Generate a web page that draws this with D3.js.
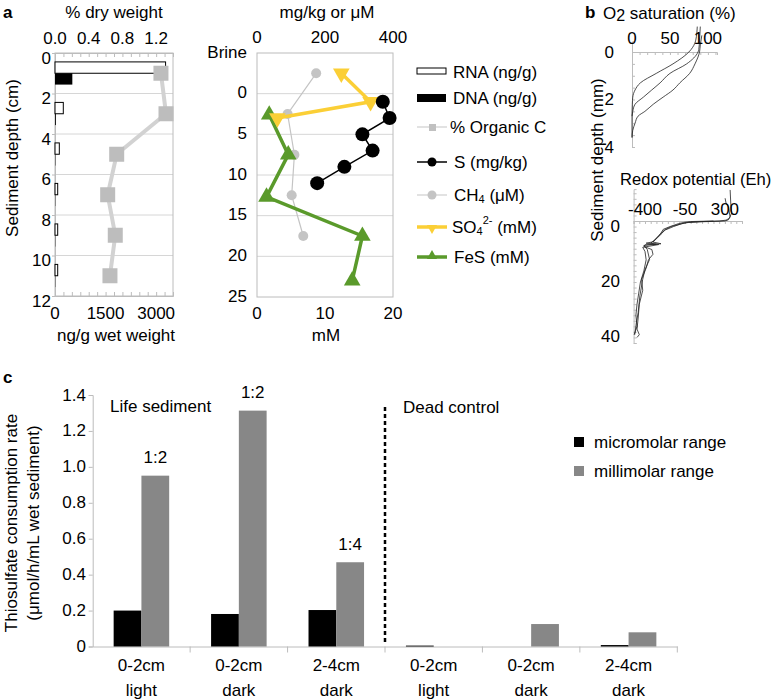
<!DOCTYPE html>
<html><head><meta charset="utf-8">
<script src="https://cdn.jsdelivr.net/npm/d3@7"></script>
<style>
body{margin:0;background:#fff;}
svg{display:block;font-family:"Liberation Sans",Arial,Helvetica,sans-serif;}
</style></head><body>
<svg id="chart" width="777" height="700"></svg>
<script>
// ---------- Panel a (left): nucleic acids & organic C ----------
const aDepthCats = [1, 3, 5, 7, 9, 11];
const rnaNgG = [3280, 246, 128, 80, 80, 80];
const dnaNgG = [514, 25, 10, 8, 8, 8];
const orgCPct = [1.257, 1.317, 0.732, 0.625, 0.715, 0.652];
const aLeftDepthTicks = [0, 2, 4, 6, 8, 10, 12];
const dryTicks = [0, 0.4, 0.8, 1.2];
const wetTicks = [0, 1500, 3000];

// ---------- Panel a (middle): geochemistry ----------
const sDepth = [1, 3, 5, 7, 9, 11];
const sMgKg = [370, 390, 310, 340, 257, 177];
const ch4Depth = [-2.5, 2.5, 7.5, 12.5, 17.5];
const ch4uM = [174, 90, 110, 102, 136];
const so4Depth = [-2.5, 1, 3];
const so4mM = [12.4, 16.7, 3.0];
const fesDepth = [2.6, 7.5, 12.7, 17.5, 23];
const fesmM = [1.8, 4.6, 1.4, 15.5, 14.0];
const midDepthTicks = [-5, 0, 5, 10, 15, 20, 25];
const midDepthLabels = ["Brine", "0", "5", "10", "15", "20", "25"];
const midTopTicks = [0, 200, 400];
const midBotTicks = [0, 10, 20];

// ---------- Panel b: microprofiles ----------
const o2Ticks = [0, 50, 100];
const o2DepthTicks = [0, 2, 4];
const o2ProfileA = [[-1.07,86],[-0.5,84],[-0.2,80],[0,75],[0.5,54],[0.9,32],[1.3,11],[1.6,4],[1.9,1],[2.2,0.4],[2.6,0],[3.6,0]];
const o2ProfileB = [[-1.07,90],[-0.5,89],[-0.1,88],[0,87],[0.5,72],[0.9,50],[1.3,37],[1.6,26],[1.9,15],[2.2,4],[2.5,1],[2.7,0]];
const o2ProfileC = [[-0.7,92],[-0.3,90],[0,89],[0.5,83],[0.9,76],[1.3,63],[1.6,54],[1.9,41],[2.2,28],[2.5,17],[2.7,8],[3.0,4],[3.3,1],[3.6,0]];
const redoxTicks = [-400, -50, 300];
const redoxDepthTicks = [0, 20, 40];
const redoxProfile1 = [[-11.2,346],[-6,352],[-3,360],[-1,340],[-0.3,310],[0,250],[0.2,100],[0.5,-20],[1,-80],[2,-150],[3.2,-220],[4.4,-260],[6.2,-300],[7.5,-330],[8,-390],[8.4,-300],[8.8,-410],[10.3,-380],[13.9,-360],[17.5,-400],[21,-420],[27,-445],[33,-460],[36.5,-475],[41,-490]];
const redoxProfile2 = [[-8.2,302],[-6.5,310],[-5.2,331],[-1.5,345],[-0.4,330],[0,300],[0.3,80],[0.6,-40],[1.2,-100],[2,-170],[3.2,-230],[4.4,-250],[6,-290],[7.6,-330],[8.2,-260],[8.6,-400],[9.2,-410],[10.3,-340],[12,-330],[14,-370],[17,-390],[21,-430],[25,-420],[30,-450],[35,-460],[39,-470],[41,-450],[42,-470]];
const redoxProfile3 = [[0,200],[0.2,0],[0.5,-60],[1,-110],[2,-180],[3,-240],[5,-270],[7,-320],[8,-350],[8.5,-280],[9.5,-420],[11,-400],[14,-390],[18,-410],[22,-440],[26,-455],[30,-470],[34,-480],[38,-470],[41,-495]];

// ---------- Panel c: thiosulfate consumption ----------
const cLine1 = ["0-2cm", "0-2cm", "2-4cm", "0-2cm", "0-2cm", "2-4cm"];
const cLine2 = ["light", "dark", "dark", "light", "dark", "dark"];
const micromolar = [0.200, 0.181, 0.203, 0.005, 0, 0.008];
const millimolar = [0.951, 1.313, 0.469, 0, 0.125, 0.079];
const ratioLabels = ["1:2", "1:2", "1:4", "", "", ""];
const cTicks = [0, 0.2, 0.4, 0.6, 0.8, 1.0, 1.2, 1.4];

// ================= drawing =================
const svg = d3.select("#chart");
const FS = 17;
const gridC = "#d6d6d6", axisC = "#bcbcbc";
const yellow = "#fbcf36", green = "#5a9a2b", lgray = "#c4c4c4";

function txt(x, y, s, opt = {}) {
  return svg.append("text").attr("x", x).attr("y", y)
    .attr("font-size", opt.fs || FS)
    .attr("text-anchor", opt.anchor || "middle")
    .attr("dominant-baseline", "central")
    .attr("font-weight", opt.bold ? "bold" : null)
    .attr("fill", "#000").text(s);
}
function styleAxis(g) {
  g.select(".domain").attr("stroke", axisC);
  g.selectAll(".tick line").attr("stroke", axisC);
  g.selectAll(".tick text").remove();
}

// ----- panel labels -----
txt(3, 12, "a", {anchor: "start", bold: true});
txt(585, 12, "b", {anchor: "start", bold: true});
txt(3, 377, "c", {anchor: "start", bold: true});

// ----- Panel a left -----
const yA = d3.scaleLinear().domain([0, 12]).range([53, 296]);
const xWet = d3.scaleLinear().domain([0, 3500]).range([55, 173]);
const xDry = d3.scaleLinear().domain([0, 1.4]).range([55, 173]);

[2, 4, 6, 8, 10].forEach(d => svg.append("line").attr("x1", 55).attr("x2", 173)
  .attr("y1", yA(d)).attr("y2", yA(d)).attr("stroke", gridC));
svg.append("rect").attr("x", 55).attr("y", yA(0)).attr("width", 118).attr("height", yA(12) - yA(0))
  .attr("fill", "none").attr("stroke", axisC);
svg.append("g").attr("transform", `translate(0,${yA(12)})`)
  .call(d3.axisBottom(xWet).tickValues(d3.range(0, 3501, 250)).tickSize(-4).tickFormat(""))
  .call(styleAxis);
svg.append("g").attr("transform", `translate(0,${yA(0)})`)
  .call(d3.axisTop(xDry).tickValues(d3.range(0, 1.41, 0.1)).tickSize(-4).tickFormat(""))
  .call(styleAxis);
svg.append("g").attr("transform", `translate(55,0)`)
  .call(d3.axisLeft(yA).tickValues(aLeftDepthTicks).tickSize(3).tickFormat(""))
  .call(styleAxis);

const bh = 0.56;
aDepthCats.forEach((c, i) => {
  svg.append("rect").attr("x", xWet(0)).attr("y", yA(c - bh))
    .attr("width", Math.max(xWet(rnaNgG[i]) - xWet(0), 0.5)).attr("height", yA(c) - yA(c - bh))
    .attr("fill", "#fff").attr("stroke", "#000").attr("stroke-width", 1);
  svg.append("rect").attr("x", xWet(0)).attr("y", yA(c))
    .attr("width", xWet(dnaNgG[i]) - xWet(0)).attr("height", yA(c + bh) - yA(c))
    .attr("fill", "#000");
});
const orgLine = d3.line().x((d, i) => xDry(d)).y((d, i) => yA(aDepthCats[i]));
svg.append("path").attr("d", orgLine(orgCPct)).attr("fill", "none")
  .attr("stroke", "#d2d2d2").attr("stroke-width", 4);
orgCPct.forEach((v, i) => svg.append("rect").attr("x", xDry(v) - 7.5).attr("y", yA(aDepthCats[i]) - 7.5)
  .attr("width", 15).attr("height", 15).attr("fill", "#bdbdbd"));

aLeftDepthTicks.forEach(d => txt(51, yA(d) + 5, String(d), {anchor: "end"}));
dryTicks.forEach(d => txt(xDry(d), 38, d.toFixed(1)));
wetTicks.forEach(d => txt(xWet(d), 313, String(d)));
txt(114, 12, "% dry weight");
txt(116, 335, "ng/g wet weight");
svg.append("text").attr("transform", "translate(12,158) rotate(-90)")
  .attr("text-anchor", "middle").attr("dominant-baseline", "central")
  .attr("font-size", FS).text("Sediment depth (cm)");

// ----- Panel a middle -----
const yB = d3.scaleLinear().domain([-5, 25]).range([53, 297]);
const xMidTop = d3.scaleLinear().domain([0, 400]).range([257, 393]);
const xMidBot = d3.scaleLinear().domain([0, 20]).range([257, 393]);
[0, 5, 10, 15, 20].forEach(d => svg.append("line").attr("x1", 257).attr("x2", 393)
  .attr("y1", yB(d)).attr("y2", yB(d)).attr("stroke", gridC));
svg.append("rect").attr("x", 257).attr("y", yB(-5)).attr("width", 136).attr("height", yB(25) - yB(-5))
  .attr("fill", "none").attr("stroke", axisC);

const ch4Line = d3.line().x(d => xMidTop(d)).y((d, i) => yB(ch4Depth[i]));
svg.append("path").attr("d", ch4Line(ch4uM)).attr("fill", "none").attr("stroke", lgray).attr("stroke-width", 1.2);
ch4uM.forEach((v, i) => svg.append("circle").attr("cx", xMidTop(v)).attr("cy", yB(ch4Depth[i])).attr("r", 5).attr("fill", lgray));

const fesLine = d3.line().x(d => xMidBot(d)).y((d, i) => yB(fesDepth[i]));
svg.append("path").attr("d", fesLine(fesmM)).attr("fill", "none").attr("stroke", green).attr("stroke-width", 3.5);
const triUp = d3.symbol().type(d3.symbolTriangle).size(120);
fesmM.forEach((v, i) => svg.append("path").attr("d", triUp())
  .attr("transform", `translate(${xMidBot(v)},${yB(fesDepth[i])})`).attr("fill", green));

const so4Line = d3.line().x(d => xMidBot(d)).y((d, i) => yB(so4Depth[i]));
svg.append("path").attr("d", so4Line(so4mM)).attr("fill", "none").attr("stroke", yellow).attr("stroke-width", 3.5);
so4mM.forEach((v, i) => svg.append("path").attr("d", triUp())
  .attr("transform", `translate(${xMidBot(v)},${yB(so4Depth[i])}) rotate(180)`).attr("fill", yellow));

const sLine = d3.line().x(d => xMidTop(d)).y((d, i) => yB(sDepth[i]));
svg.append("path").attr("d", sLine(sMgKg)).attr("fill", "none").attr("stroke", "#000").attr("stroke-width", 1.5);
sMgKg.forEach((v, i) => svg.append("circle").attr("cx", xMidTop(v)).attr("cy", yB(sDepth[i])).attr("r", 7).attr("fill", "#000"));

midDepthTicks.forEach((d, i) => txt(247, yB(d) - 1, midDepthLabels[i], {anchor: "end"}));
midTopTicks.forEach(d => txt(xMidTop(d), 37, String(d)));
midBotTicks.forEach(d => txt(xMidBot(d), 313, String(d)));
txt(327, 12, "mg/kg or μM");
txt(326, 335, "mM");

// ----- Panel a legend -----
const lgX0 = 417, lgX1 = 447, lgT = 453;
svg.append("rect").attr("x", lgX0).attr("y", 68).attr("width", 29).attr("height", 6)
  .attr("fill", "#fff").attr("stroke", "#000");
txt(lgT, 72, "RNA (ng/g)", {anchor: "start"});
svg.append("rect").attr("x", lgX0).attr("y", 94).attr("width", 29).attr("height", 8).attr("fill", "#000");
txt(lgT, 98, "DNA (ng/g)", {anchor: "start"});
function legLine(y, color, w) {
  svg.append("line").attr("x1", lgX0).attr("x2", lgX1).attr("y1", y).attr("y2", y)
    .attr("stroke", color).attr("stroke-width", w);
}
legLine(127, "#d9d9d9", 1.5);
svg.append("rect").attr("x", 429).attr("y", 124).attr("width", 7).attr("height", 7).attr("fill", "#c0c0c0");
txt(450, 127, "% Organic C", {anchor: "start"});
legLine(162, "#000", 1.5);
svg.append("circle").attr("cx", 432).attr("cy", 162).attr("r", 4.5).attr("fill", "#000");
txt(lgT + 1, 162, "S (mg/kg)", {anchor: "start"});
legLine(195, "#d9d9d9", 1.5);
svg.append("circle").attr("cx", 432).attr("cy", 195).attr("r", 4.5).attr("fill", lgray);
const ch4T = txt(lgT + 1, 195, "CH", {anchor: "start"});
ch4T.append("tspan").attr("font-size", 11).attr("dy", 4).text("4");
ch4T.append("tspan").attr("dy", -4).text(" (μM)");
legLine(227, yellow, 3.5);
svg.append("path").attr("d", d3.symbol().type(d3.symbolTriangle).size(45)())
  .attr("transform", "translate(432,228) rotate(180)").attr("fill", yellow);
const so4T = txt(lgT - 1, 227, "SO", {anchor: "start"});
so4T.append("tspan").attr("font-size", 11).attr("dy", 4).text("4");
so4T.append("tspan").attr("font-size", 11).attr("dy", -11).text("2-");
so4T.append("tspan").attr("dy", 7).text(" (mM)");
legLine(257, green, 3.5);
svg.append("path").attr("d", d3.symbol().type(d3.symbolTriangle).size(45)())
  .attr("transform", "translate(432,256)").attr("fill", green);
txt(lgT + 1, 257, "FeS (mM)", {anchor: "start"});

// ----- Panel b: O2 -----
const xO2 = d3.scaleLinear().domain([0, 112]).range([632, 717]);
const yO2 = d3.scaleLinear().domain([0, 4]).range([52, 147]);
svg.append("g").attr("transform", `translate(0,${yO2(0)})`)
  .call(d3.axisTop(xO2).tickValues(d3.range(0, 111, 10)).tickSize(-3).tickFormat(""))
  .call(styleAxis);
svg.append("g").attr("transform", `translate(${xO2(0)},0)`)
  .call(d3.axisLeft(d3.scaleLinear().domain([-0.45, 4]).range([yO2(-0.45), yO2(4)]))
    .tickValues(d3.range(0, 4.01, 0.5)).tickSize(-3).tickFormat(""))
  .call(styleAxis);
const o2Line = d3.line().x(d => xO2(d[1])).y(d => yO2(d[0])).curve(d3.curveMonotoneY);
[o2ProfileA, o2ProfileB, o2ProfileC].forEach(p =>
  svg.append("path").attr("d", o2Line(p)).attr("fill", "none").attr("stroke", "#222").attr("stroke-width", 0.8));
o2Ticks.forEach(d => txt(xO2(d), 38, String(d)));
o2DepthTicks.forEach(d => txt(614, yO2(d), String(d), {anchor: "end"}));
const o2T = svg.append("text").attr("x", 603).attr("y", 19).attr("font-size", FS).text("O");
o2T.append("tspan").attr("font-size", 16).attr("dy", 2).text("2");
o2T.append("tspan").attr("dy", -2).text(" saturation (%)");

// ----- Panel b: redox -----
const xRx = d3.scaleLinear().domain([-500, 450]).range([633.6, 742]);
const yRx = d3.scaleLinear().domain([0, 44]).range([221, 343]);
svg.append("g").attr("transform", `translate(0,${yRx(0)})`)
  .call(d3.axisTop(xRx).tickValues(d3.range(-500, 451, 50)).tickSize(-3).tickFormat(""))
  .call(styleAxis);
svg.append("g").attr("transform", `translate(${xRx(-500)},0)`)
  .call(d3.axisLeft(d3.scaleLinear().domain([-11.5, 44]).range([yRx(-11.5), yRx(44)]))
    .tickValues(d3.range(-10, 44.1, 2)).tickSize(-3).tickFormat(""))
  .call(styleAxis);
const rxLine = d3.line().x(d => xRx(d[1])).y(d => yRx(d[0]));
[redoxProfile1, redoxProfile2, redoxProfile3].forEach(p =>
  svg.append("path").attr("d", rxLine(p)).attr("fill", "none").attr("stroke", "#222").attr("stroke-width", 0.8));
redoxTicks.forEach(d => txt(xRx(d), 209, String(d)));
redoxDepthTicks.forEach(d => txt(620, yRx(d) + 5, String(d), {anchor: "end"}));
svg.append("text").attr("x", 620).attr("y", 185).attr("font-size", 16.6).text("Redox potential (Eh)");
svg.append("text").attr("transform", "translate(597,160) rotate(-90)")
  .attr("text-anchor", "middle").attr("dominant-baseline", "central")
  .attr("font-size", FS).text("Sediment depth (mm)");

// ----- Panel c -----
const cIdx = d3.range(cLine1.length);
const xC = d3.scaleBand().domain(cIdx).range([92.7, 677.3]).padding(0);
const yC = d3.scaleLinear().domain([0, 1.4]).range([646.5, 395]);
const bw = xC.bandwidth() * 0.285;
const off = (xC.bandwidth() - 2 * bw) / 2;
svg.append("g").attr("transform", `translate(0,${yC(0)})`)
  .call(d3.axisBottom(xC).tickSize(0).tickFormat(""))
  .call(styleAxis);
cIdx.concat([cIdx.length]).forEach(i => {
  const x = i < cIdx.length ? xC(i) : xC(cIdx.length - 1) + xC.bandwidth();
  if (i === 0) return;
  svg.append("line").attr("x1", x).attr("x2", x).attr("y1", yC(0)).attr("y2", yC(0) + 6).attr("stroke", axisC);
});
svg.append("g").attr("transform", `translate(92.7,0)`)
  .call(d3.axisLeft(yC).tickValues(cTicks).tickSize(4).tickFormat(""))
  .call(styleAxis);
cIdx.forEach(i => {
  const x0 = xC(i) + off;
  svg.append("rect").attr("x", x0).attr("y", yC(micromolar[i]))
    .attr("width", bw).attr("height", yC(0) - yC(micromolar[i])).attr("fill", "#000");
  svg.append("rect").attr("x", x0 + bw).attr("y", yC(millimolar[i]))
    .attr("width", bw).attr("height", yC(0) - yC(millimolar[i])).attr("fill", "#878787");
  if (ratioLabels[i]) txt(x0 + bw * 1.5, yC(millimolar[i]) - 18, ratioLabels[i]);
  txt(xC(i) + xC.bandwidth() / 2, 665, cLine1[i]);
  txt(xC(i) + xC.bandwidth() / 2, 690, cLine2[i]);
});
cTicks.forEach(d => txt(86, yC(d), d === 0 ? "0" : d.toFixed(1), {anchor: "end"}));
svg.append("line").attr("x1", xC(3)).attr("x2", xC(3)).attr("y1", 407).attr("y2", 642)
  .attr("stroke", "#000").attr("stroke-width", 2.5).attr("stroke-dasharray", "4,3");
txt(110, 406, "Life sediment", {anchor: "start"});
txt(403, 407, "Dead control", {anchor: "start"});
svg.append("rect").attr("x", 574).attr("y", 437).attr("width", 10).attr("height", 10).attr("fill", "#000");
txt(594, 442, "micromolar range", {anchor: "start"});
svg.append("rect").attr("x", 574).attr("y", 466).attr("width", 10).attr("height", 10).attr("fill", "#878787");
txt(594, 471, "millimolar range", {anchor: "start"});
svg.append("text").attr("transform", "translate(11,523) rotate(-90)")
  .attr("text-anchor", "middle").attr("dominant-baseline", "central")
  .attr("font-size", FS).text("Thiosulfate consumption rate");
svg.append("text").attr("transform", "translate(33,523) rotate(-90)")
  .attr("text-anchor", "middle").attr("dominant-baseline", "central")
  .attr("font-size", FS).text("(μmol/h/mL wet sediment)");
</script>
</body></html>
